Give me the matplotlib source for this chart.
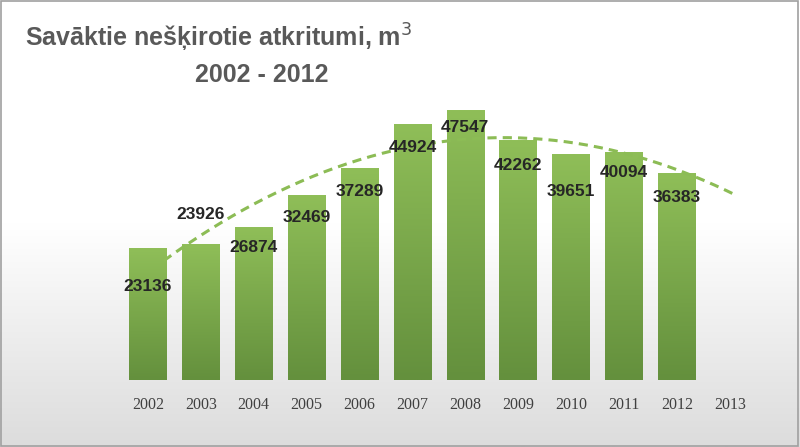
import numpy as np
import matplotlib.pyplot as plt
from matplotlib.colors import LinearSegmentedColormap

years = ["2002","2003","2004","2005","2006","2007","2008","2009","2010","2011","2012","2013"]
values = [23136, 23926, 26874, 32469, 37289, 44924, 47547, 42262, 39651, 40094, 36383]
label_off = [-38, 30, -20, -22, -23, -23, -17, -25, -37, -20, -24]  # px, label offset vs bar top

W, H = 800, 447
fig = plt.figure(figsize=(8, 4.47), dpi=100)
bg = fig.add_axes([0, 0, 1, 1], zorder=-5)
g = np.linspace(0, 1, 256).reshape(-1, 1)
cm_bg = LinearSegmentedColormap.from_list("bg", ["#ffffff", "#ffffff", "#dcdcdc"])
bg.imshow(g, aspect="auto", cmap=cm_bg, extent=[0, 1, 0, 1], vmin=0, vmax=1, origin="upper")
bg.set_xlim(0, 1); bg.set_ylim(0, 1); bg.axis("off")
bg.add_patch(plt.Rectangle((0.001, 0.002), 0.997, 0.996, fill=False, ec="#a0a0a0", lw=1.2))

left, right, bot, top = 95, 760, 380, 60
ax = fig.add_axes([left/W, (H-bot)/H, (right-left)/W, (bot-top)/H])
ax.set_facecolor("none")
x = np.arange(len(years))
n = len(values)
ymax = 320/270*47547
bw = 0.71
cm_bar = LinearSegmentedColormap.from_list("bar", ["#64903d", "#8fbe58"])
for i, v in enumerate(values):
    ax.imshow(np.linspace(0, 1, 100).reshape(-1, 1), cmap=cm_bar, aspect="auto",
              extent=[x[i]-bw/2, x[i]+bw/2, 0, v], origin="lower", zorder=2)
    dy = label_off[i] / 270 * 47547
    ax.text(x[i], v + dy, f"{v}", ha="center", va="center", fontsize=12.5,
            family="Liberation Sans", fontweight="bold", color="#262626", zorder=4)
ax.set_xlim(-1.0, 11.57); ax.set_ylim(0, ymax)

coef = np.polyfit(x[:n], values, 2)
xt = np.linspace(0.3, 11.1, 200)
ax.plot(xt, np.polyval(coef, xt), ls=(0, (3, 2)), color="#8cbc55", lw=2.2, zorder=3)

ax.set_xticks(x)
ax.set_xticklabels(years, family="Liberation Serif", fontsize=11.5, color="#404040")
ax.tick_params(length=0, pad=12)
ax.set_yticks([])
for s in ax.spines.values():
    s.set_visible(False)

fig.text(25/W, 1-38/H, "Savāktie nešķirotie atkritumi, m$^3$", fontsize=18,
         family="Liberation Sans", fontweight="bold", color="#595959", va="center")
fig.text(262/W, 1-75/H, "2002 - 2012", fontsize=18, family="Liberation Sans",
         fontweight="bold", color="#595959", va="center", ha="center")
fig.savefig("out.png", dpi=100)
